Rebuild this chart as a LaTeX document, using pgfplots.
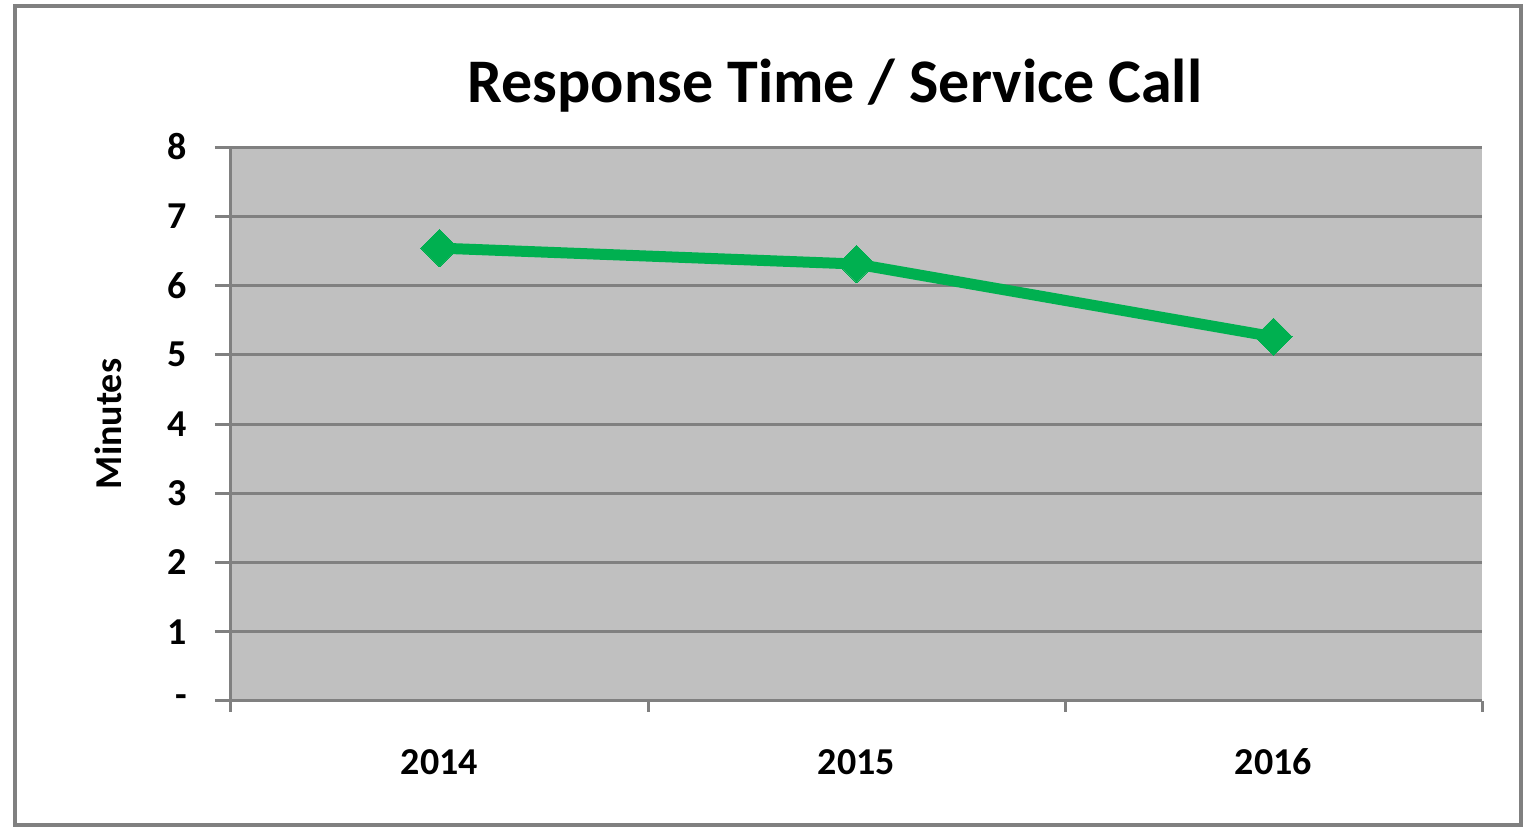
\documentclass[border=0pt]{standalone}
\usepackage{pgfplots}
\pgfplotsset{compat=1.18}
\usepackage{fontspec}
\setmainfont{Carlito}
\definecolor{plotbg}{RGB}{192,192,192}
\definecolor{gridc}{RGB}{128,128,128}
\definecolor{linegreen}{RGB}{0,176,80}
\begin{document}
\begin{tikzpicture}[x=0.5pt,y=0.5pt]
\useasboundingbox (0,0) rectangle (1523,831);
\draw[gridc, line width=2pt] (15,6) rectangle (1521,825);
\node[font=\fontsize{31}{36}\selectfont\bfseries] at (835,745) {Response Time / Service Call};
\begin{axis}[
  at={(115.5pt,65pt)}, anchor=south west,
  scale only axis, width=625.5pt, height=277pt,
  xmin=-0.5, xmax=2.5, ymin=0, ymax=8,
  axis x line=bottom, axis y line=left,
  axis line style={gridc, line width=1.5pt, -},
  axis background/.style={fill=plotbg},
  xtick={0,1,2}, xticklabels={2014,2015,2016},
  minor xtick={-0.5,0.5,1.5,2.5},
  ytick={0,1,...,8}, yticklabels={-,1,2,3,4,5,6,7,8},
  ymajorgrids,
  grid style={gridc, line width=1.5pt},
  major x tick style={draw=none},
  minor x tick style={gridc, line width=1.5pt},
  major y tick style={gridc, line width=1.5pt},
  tick align=outside,
  major tick length=8pt, minor tick length=5.5pt,
  tick label style={font=\fontsize{19}{22}\selectfont\bfseries},
  yticklabel style={anchor=east, xshift=-10.5pt},
  xticklabel style={yshift=-12pt, text height=13pt, text depth=0pt},
  ylabel={Minutes},
  ylabel shift=16pt,
  ylabel style={font=\fontsize{19}{22}\selectfont\bfseries},
  /pgf/number format/assume math mode=true,
  clip=false,
]
\addplot[linegreen, line width=5.5pt, mark=square*, mark size=6.6pt,
  mark options={rotate=45, fill=linegreen, draw=linegreen, line width=0pt}]
  coordinates {(0,6.54) (1,6.31) (2,5.26)};
\end{axis}
\end{tikzpicture}
\end{document}
